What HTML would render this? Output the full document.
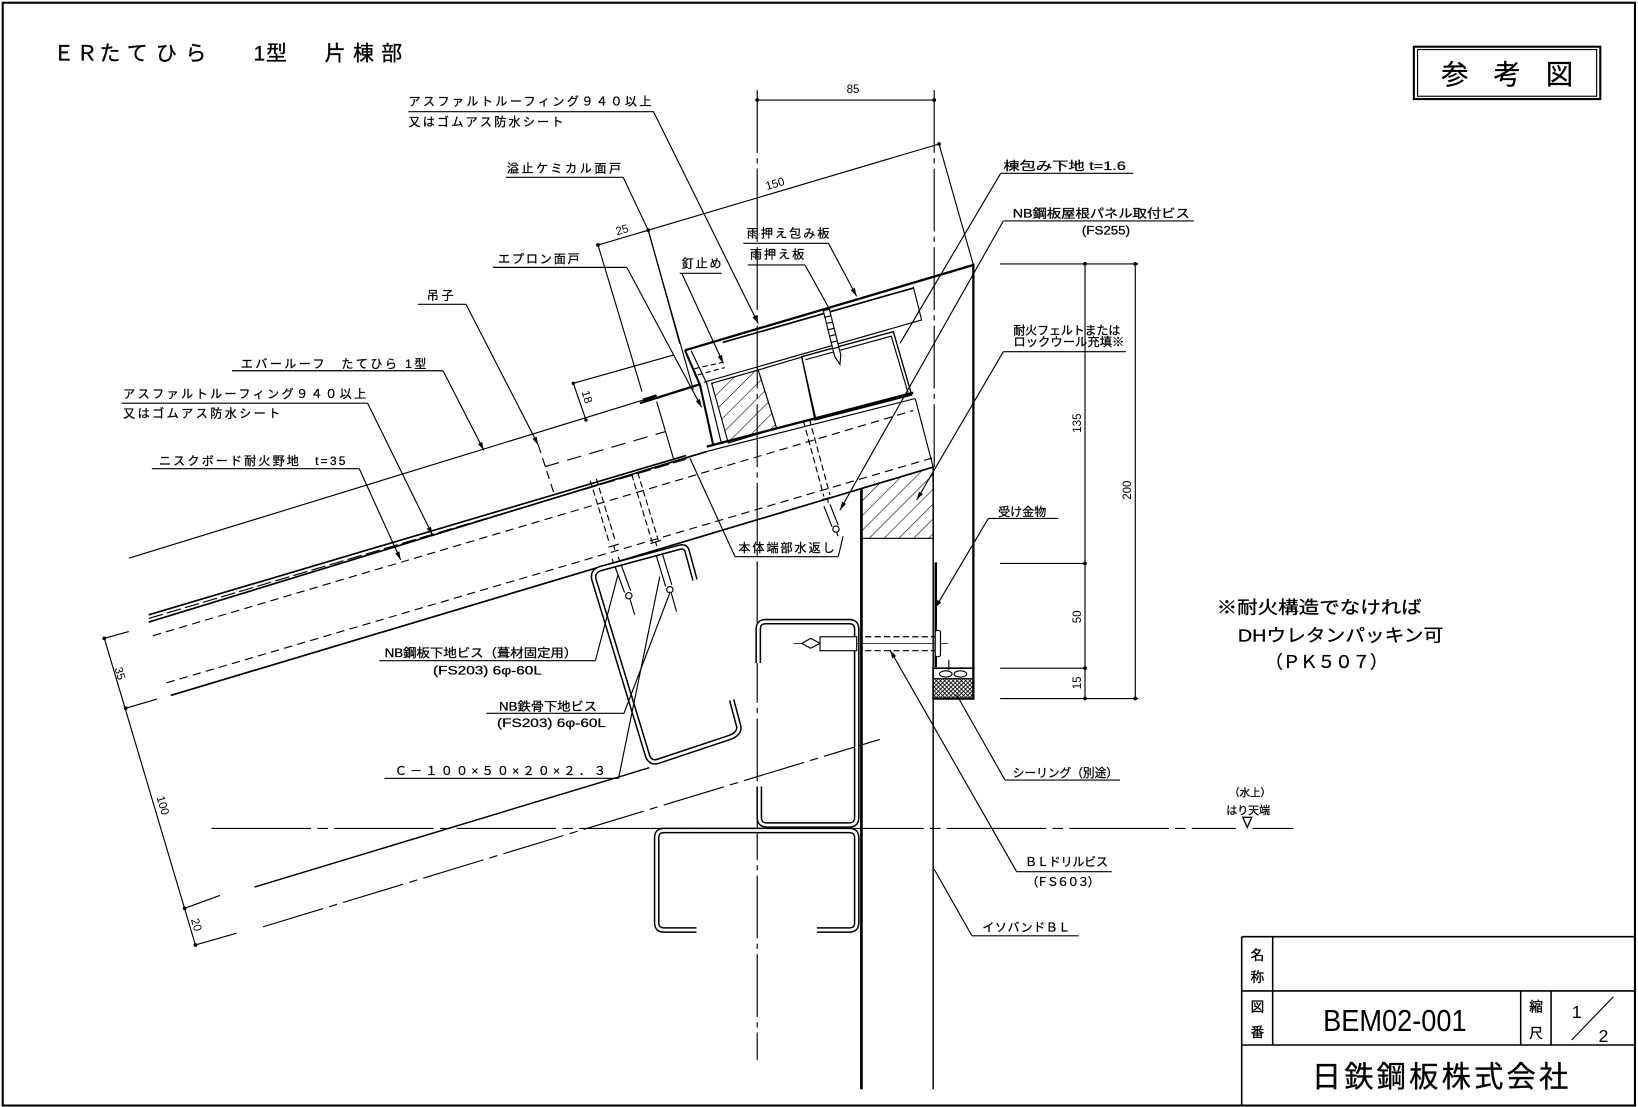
<!DOCTYPE html>
<html><head><meta charset="utf-8"><style>
html,body{margin:0;padding:0;background:#fff;}
svg{display:block}
text{font-family:"Liberation Sans","Noto Sans CJK JP",sans-serif;fill:#000}
.j{font-family:"Liberation Sans","Noto Sans CJK JP",sans-serif;font-size:11.5px;stroke:#000;stroke-width:0.25}
.b{stroke:#000;stroke-width:0.3}
</style></head><body>
<svg width="1638" height="1107" viewBox="0 0 1564 1057" preserveAspectRatio="none" xmlns="http://www.w3.org/2000/svg">
<defs>
<marker id="a" markerWidth="8" markerHeight="6" refX="8" refY="3" orient="auto" markerUnits="userSpaceOnUse"><path d="M0,0.8 L8,3 L0,5.2z" fill="#000"/></marker>
<pattern id="h" patternUnits="userSpaceOnUse" width="10" height="10" patternTransform="rotate(45)"><line x1="0" y1="0" x2="0" y2="10" stroke="#000" stroke-width="1.1"/></pattern>
<pattern id="x" patternUnits="userSpaceOnUse" width="4" height="4"><path d="M0,0 L4,4 M4,0 L0,4" stroke="#000" stroke-width="0.8"/></pattern>
</defs>
<rect x="0" y="0" width="1564" height="1057" fill="#fff"/>
<rect x="2.6" y="2.6" width="1558.5" height="1053" fill="none" stroke="#000" stroke-width="2"/>

<!-- Title -->
<g class="b">
<text x="51 73 95 121 149 177" y="58" font-size="20">ＥＲたてひら</text>
<text x="242 254" y="58" font-size="20">1型</text>
<text x="310 337 364" y="58" font-size="20">片棟部</text>
</g>

<!-- 参考図 -->
<rect x="1350" y="44.6" width="178" height="50" fill="none" stroke="#000" stroke-width="2"/>
<rect x="1353.5" y="47.3" width="171" height="44.6" fill="none" stroke="#000" stroke-width="1.1"/>
<g class="b">
<text x="1389" y="80" font-size="26" text-anchor="middle">参</text>
<text x="1439" y="80" font-size="26" text-anchor="middle">考</text>
<text x="1489" y="80" font-size="26" text-anchor="middle">図</text>
</g>

<g fill="none" stroke="#000" stroke-width="1.1">
<!-- centerlines -->
<line x1="723" y1="86" x2="723" y2="1012" stroke-dasharray="60,5,5,5"/>
<line x1="892" y1="86" x2="892" y2="446" stroke-dasharray="60,5,5,5"/>
<line x1="202" y1="791" x2="1180" y2="791" stroke-dasharray="95,6,10,6"/>
<line x1="1196" y1="791" x2="1235" y2="791"/>
<path d="M1186.6,780.4 L1195.2,780.4 L1190.9,790 Z" stroke-width="1.3"/>

<!-- 85 dim -->
<line x1="723" y1="95.5" x2="892" y2="95.5"/>
<!-- 150 / 25 dim -->
<line x1="571" y1="234" x2="896.6" y2="137.5"/>
<line x1="896.6" y1="137.5" x2="929.4" y2="253"/>
<line x1="571" y1="234" x2="613" y2="374"/>
<line x1="619" y1="220" x2="649" y2="328"/>

<!-- ridge cap & flashing -->
<path d="M654,334.5 L929.4,253 L929.4,667 L891,667" stroke-width="2.2"/>
<line x1="690" y1="327" x2="872" y2="275" stroke-width="1.6"/>
<path d="M872,273.7 L880,305.5 L672,365"/>
<path d="M654,334.5 L668.4,367.6 L681,425" stroke-width="2"/>
<path d="M660,335 L674.8,366 L689,424"/>
<line x1="611" y1="385" x2="668" y2="367" stroke-width="2.2"/>
<line x1="663" y1="352" x2="690" y2="346" stroke-dasharray="5,3"/>
<line x1="666" y1="358" x2="692" y2="351" stroke-dasharray="5,3"/>

<!-- wood block hatched -->
<polygon points="679.5,366 724,353.3 741.6,409 695.4,423" fill="url(#h)"/>
<!-- spacer -->
<polygon points="724,353.3 765.5,341 779,400 741.6,409" fill="#fff"/>
<!-- box tube -->
<polygon points="765.5,340.6 853,316.7 870.5,377.2 778.2,401" stroke-width="1.3"/>
<polyline points="769,343.5 851,321 867,375"/>

<!-- upper ridge screw -->
<polygon points="791.9,295.3 802.8,339 802,348 797,340.4 786.1,296.7" fill="#fff"/>
<path d="M787,303 L793.5,301.5 M788.5,309 L795,307.5 M790,315 L796.5,313.5 M791.5,321 L798,319.5 M793,327 L799.5,325.5 M794.5,333 L801,331.5"/>

<!-- board top lines -->
<line x1="674.8" y1="426.5" x2="872" y2="375" stroke-width="2.2"/>
<line x1="674.8" y1="431" x2="874" y2="380.5"/>
<line x1="874" y1="381" x2="891" y2="446"/>

<!-- roof left -->
<line x1="123" y1="533" x2="614" y2="382"/>
<line x1="614" y1="382" x2="627" y2="378" stroke-width="3"/>
<line x1="142" y1="587" x2="655" y2="435" stroke-width="1.6"/>
<line x1="142" y1="590.5" x2="655" y2="438.5" stroke-dasharray="14,4"/>
<line x1="142" y1="594" x2="675" y2="431" stroke-width="1.6"/>
<line x1="146" y1="607" x2="872" y2="392" stroke-dasharray="8,5"/>
<line x1="159" y1="652" x2="891" y2="437" stroke-dasharray="8,5"/>
<line x1="163" y1="664" x2="891" y2="446" stroke-width="1.6"/>
<line x1="520.4" y1="445.6" x2="635" y2="412.2" stroke-dasharray="14,8"/>
<line x1="514" y1="425" x2="528.6" y2="470" stroke-dasharray="8,5"/>
<line x1="627" y1="383.5" x2="643" y2="437.6"/>
<!-- 18 dim -->
<line x1="547.4" y1="366" x2="559.5" y2="401"/>
<line x1="547.4" y1="366" x2="643" y2="339"/>

<!-- C bottom and dashdot -->
<line x1="243" y1="847" x2="620" y2="733" stroke-width="1.4"/>
<line x1="251" y1="885" x2="840" y2="706" stroke-dasharray="60,6,8,6"/>

<!-- left dim -->
<line x1="99.6" y1="609.5" x2="186.6" y2="902.3"/>
<line x1="99.6" y1="609.5" x2="123" y2="603"/>
<line x1="120" y1="676.3" x2="150" y2="667.5"/>
<line x1="176.3" y1="867.3" x2="210" y2="855"/>
<line x1="186.6" y1="902.3" x2="226" y2="891"/>

<!-- board screws -->
<g stroke-dasharray="6,3">
<line x1="569.4" y1="457.1" x2="587.8" y2="517.3"/><line x1="563.6" y1="458.9" x2="582" y2="519.1"/>
<line x1="608.9" y1="451.1" x2="628.6" y2="516"/><line x1="603.1" y1="452.9" x2="622.8" y2="518"/>
<line x1="772.9" y1="400.2" x2="792.5" y2="472.6"/><line x1="767.1" y1="401.8" x2="786.7" y2="474.2"/>
</g>
<path d="M581,522.5 L591,519.5 M586,521 L587,525 M621,519 L631,516 M626,517.5 L627,521.5 M785,477 L795,474.5 M790,476 L791,480"/>
<path d="M590.2,531.6 L602.2,564.1 M584.4,533.4 L596.4,565.9 M606,587 L601.5,572"/>
<circle cx="600.4" cy="568.8" r="3"/>
<path d="M631.5,525.7 L641.4,558.3 M625.7,527.5 L635.6,560.1 M646,584 L641,566.5"/>
<circle cx="639.6" cy="563" r="3"/>
<path d="M792.5,481.6 L800.3,501.5 M786.7,483.2 L794.5,503.1 M800,512 L799,508.5"/>
<circle cx="798.2" cy="505.2" r="3"/>

<!-- purlin C sloped (double line) -->
<path d="M663.6,553.8 L656,526 Q654.5,521 649,522.5 L573,543 Q565.5,545.5 567,553 L617.5,719 Q620,729.5 628,727 L697,704 Q706,700.5 705.5,694 L698.6,668.4" stroke-width="5.5"/>
<path d="M663.6,553.8 L656,526 Q654.5,521 649,522.5 L573,543 Q565.5,545.5 567,553 L617.5,719 Q620,729.5 628,727 L697,704 Q706,700.5 705.5,694 L698.6,668.4" stroke="#fff" stroke-width="2.6"/>
<!-- upper vertical C -->
<path d="M724,633 L724,601 Q724,593.6 731,593.6 L811,593.6 Q818,593.6 818,601 L818,780.5 Q818,787.7 811,787.7 L732,787.7 Q725,787.7 725,780.5 L725,751" stroke-width="5.5"/>
<path d="M724,633 L724,601 Q724,593.6 731,593.6 L811,593.6 Q818,593.6 818,601 L818,780.5 Q818,787.7 811,787.7 L732,787.7 Q725,787.7 725,780.5 L725,751" stroke="#fff" stroke-width="2.6"/>
<!-- lower beam -->
<path d="M665,888 L634,888 Q627,888 627,881 L627,800 Q627,793 634,793 L811,793 Q818,793 818,800 L818,881 Q818,888 811,888 L780,888" stroke-width="5.5"/>
<path d="M665,888 L634,888 Q627,888 627,881 L627,800 Q627,793 634,793 L811,793 Q818,793 818,800 L818,881 Q818,888 811,888 L780,888" stroke="#fff" stroke-width="2.6"/>

<!-- wall -->
<polygon points="823,466 891,446 891,514 823,514" fill="url(#h)"/>
<line x1="822.5" y1="466" x2="822.5" y2="1040" stroke-width="2.6"/>
<line x1="891" y1="446" x2="891" y2="1040" stroke-width="1.4"/>
<line x1="893.5" y1="537" x2="893.5" y2="637" stroke-width="2.4"/>
<!-- sealing -->
<rect x="891" y="648" width="38" height="19" fill="url(#x)"/>
<rect x="891" y="638" width="38.4" height="29" stroke-width="1.6"/>
<ellipse cx="903" cy="643.5" rx="6" ry="3"/>
<ellipse cx="917" cy="643.5" rx="6" ry="3"/>
<line x1="906" y1="630" x2="906" y2="640"/>
<!-- bolt -->
<line x1="757.5" y1="614.3" x2="905" y2="614.3" stroke-width="0.8"/>
<polygon points="765.5,614.3 774,609.5 783,614.3 774,619" fill="#fff"/>
<rect x="783" y="608" width="35" height="13.3" fill="#fff"/>
<line x1="826" y1="608" x2="894" y2="608" stroke-dasharray="6,3"/>
<line x1="826" y1="621.3" x2="894" y2="621.3" stroke-dasharray="6,3"/>
<rect x="893" y="602" width="5" height="25" rx="2" fill="#fff"/>

<!-- right dims -->
<line x1="955" y1="252" x2="1087" y2="252"/>
<line x1="955" y1="538" x2="1037" y2="538"/>
<line x1="955" y1="638" x2="1037" y2="638"/>
<line x1="955" y1="667" x2="1087" y2="667"/>
<line x1="1036" y1="252" x2="1036" y2="667"/>
<line x1="1084" y1="252" x2="1084" y2="667"/>

<!-- leaders -->
<line x1="390" y1="106.6" x2="624" y2="106.6"/>
<line x1="624" y1="106.6" x2="724" y2="309" marker-end="url(#a)"/>
<line x1="483" y1="169.3" x2="595" y2="169.3"/>
<polyline points="595,169.3 619,220 662,372"/>
<line x1="470.6" y1="255.3" x2="598.5" y2="255.3"/>
<line x1="598.5" y1="255.3" x2="670" y2="389" marker-end="url(#a)"/>
<line x1="649" y1="261" x2="689" y2="261"/>
<line x1="651" y1="261" x2="690.7" y2="347" marker-end="url(#a)"/>
<line x1="709.7" y1="232.3" x2="791" y2="232.3"/>
<line x1="791" y1="232.3" x2="818" y2="283" marker-end="url(#a)"/>
<line x1="714" y1="253" x2="768.6" y2="253"/>
<line x1="768.6" y1="253" x2="792.5" y2="296"/>
<line x1="399" y1="290.6" x2="445" y2="290.6"/>
<line x1="445" y1="290.6" x2="514" y2="425" marker-end="url(#a)"/>
<line x1="221.5" y1="354" x2="423" y2="354"/>
<line x1="423" y1="354" x2="462" y2="430" marker-end="url(#a)"/>
<line x1="116" y1="385" x2="351" y2="385"/>
<line x1="351" y1="385" x2="413" y2="511" marker-end="url(#a)"/>
<line x1="145" y1="447.5" x2="343" y2="447.5"/>
<line x1="343" y1="447.5" x2="382.6" y2="534.7" marker-end="url(#a)"/>
<line x1="955.5" y1="165.5" x2="1082" y2="165.5"/>
<line x1="955.5" y1="165.5" x2="859.4" y2="327.8"/>
<line x1="958" y1="211" x2="1140" y2="211"/>
<line x1="958" y1="211" x2="802" y2="487" marker-end="url(#a)"/>
<line x1="958" y1="335.8" x2="1075" y2="335.8"/>
<line x1="958" y1="335.8" x2="875.3" y2="477.4" marker-end="url(#a)"/>
<line x1="943.7" y1="495" x2="1010.5" y2="495"/>
<line x1="943.7" y1="495" x2="892.8" y2="580.8" marker-end="url(#a)"/>
<line x1="701.8" y1="531.5" x2="800.4" y2="531.5"/>
<line x1="701.8" y1="531.5" x2="658.8" y2="437.6"/>
<line x1="800.4" y1="531.5" x2="805" y2="512"/>
<line x1="362.2" y1="630.8" x2="568.5" y2="630.8"/>
<line x1="568.5" y1="630.8" x2="590" y2="549"/>
<line x1="464.4" y1="681.1" x2="595.8" y2="681.1"/>
<line x1="595.8" y1="681.1" x2="640" y2="565"/>
<line x1="367" y1="743.2" x2="590.6" y2="743.2"/>
<line x1="590.6" y1="743.2" x2="630" y2="550.6"/>
<line x1="959.6" y1="744.8" x2="1069.4" y2="744.8"/>
<line x1="959.6" y1="744.8" x2="913.5" y2="663.6"/>
<line x1="970.7" y1="832.3" x2="1061.5" y2="832.3"/>
<line x1="970.7" y1="832.3" x2="849.8" y2="620.6" marker-end="url(#a)"/>
<line x1="928" y1="893.5" x2="1030" y2="893.5"/>
<line x1="928" y1="893.5" x2="892" y2="830"/>

<!-- title block -->
<g stroke-width="1.5">
<line x1="1185.6" y1="894.4" x2="1561" y2="894.4"/>
<line x1="1185.6" y1="894.4" x2="1185.6" y2="1056"/>
<line x1="1185.6" y1="946.2" x2="1561" y2="946.2"/>
<line x1="1185.6" y1="997.8" x2="1561" y2="997.8"/>
<line x1="1215.2" y1="894.4" x2="1215.2" y2="997.8"/>
<line x1="1452" y1="946.2" x2="1452" y2="997.8"/>
<line x1="1481" y1="946.2" x2="1481" y2="997.8"/>
</g>
<line x1="1500.7" y1="993" x2="1540.5" y2="951.7"/>
</g>

<!-- dots -->
<g fill="#000">
<circle cx="723" cy="95.5" r="1.8"/><circle cx="892" cy="95.5" r="1.8"/>
<circle cx="571" cy="234" r="1.8"/><circle cx="619" cy="219.8" r="1.8"/><circle cx="896.6" cy="137.5" r="1.8"/>
<circle cx="547.4" cy="366" r="1.6"/><circle cx="559.5" cy="401" r="1.6"/>
<circle cx="99.6" cy="609.5" r="1.8"/><circle cx="120" cy="676.3" r="1.8"/><circle cx="176.3" cy="867.3" r="1.8"/><circle cx="186.6" cy="902.3" r="1.8"/>
<circle cx="1036" cy="252" r="1.8"/><circle cx="1036" cy="538" r="1.8"/><circle cx="1036" cy="638" r="1.8"/><circle cx="1036" cy="667" r="1.8"/>
<circle cx="1084" cy="252" r="1.8"/><circle cx="1084" cy="667" r="1.8"/>
</g>

<!-- dimension texts -->
<g font-size="11">
<text x="814.5" y="89" text-anchor="middle">85</text>
<text x="741" y="179" text-anchor="middle" transform="rotate(-16.5 741 179)">150</text>
<text x="595" y="223" text-anchor="middle" transform="rotate(-16.5 595 223)">25</text>
<text x="557" y="380" text-anchor="middle" transform="rotate(73.5 557 380)">18</text>
<text x="111" y="644" text-anchor="middle" transform="rotate(73.5 111 644)">35</text>
<text x="152" y="770" text-anchor="middle" transform="rotate(73.5 152 770)">100</text>
<text x="184" y="884" text-anchor="middle" transform="rotate(73.5 184 884)">20</text>
<text x="1032" y="404" text-anchor="middle" transform="rotate(-90 1032 404)">135</text>
<text x="1080" y="468" text-anchor="middle" transform="rotate(-90 1080 468)">200</text>
<text x="1032" y="589" text-anchor="middle" transform="rotate(-90 1032 589)">50</text>
<text x="1032" y="652" text-anchor="middle" transform="rotate(-90 1032 652)">15</text>
</g>

<!-- labels -->
<g class="j">
<text x="390" y="100.6" textLength="232" lengthAdjust="spacing">アスファルトルーフィング９４０以上</text>
<text x="390" y="120.4" textLength="148" lengthAdjust="spacing">又はゴムアス防水シート</text>
<text x="484" y="164.9" textLength="109" lengthAdjust="spacing">溢止ケミカル面戸</text>
<text x="475.5" y="250.9" textLength="78" lengthAdjust="spacing">エプロン面戸</text>
<text x="651" y="255.6" textLength="38" lengthAdjust="spacing">釘止め</text>
<text x="713" y="227" textLength="79" lengthAdjust="spacing">雨押え包み板</text>
<text x="716" y="246.7" textLength="52" lengthAdjust="spacing">雨押え板</text>
<text x="407.5" y="285.9" textLength="25.5" lengthAdjust="spacing">吊子</text>
<text x="230" y="351.2" textLength="177" lengthAdjust="spacing">エバールーフ　たてひら 1型</text>
<text x="117.6" y="379.8" textLength="232" lengthAdjust="spacing">アスファルトルーフィング９４０以上</text>
<text x="117.6" y="398.8" textLength="150" lengthAdjust="spacing">又はゴムアス防水シート</text>
<text x="151.8" y="444.2" textLength="178" lengthAdjust="spacing">ニスクボード耐火野地　t=35</text>
<text x="958" y="162.5" textLength="117" lengthAdjust="spacingAndGlyphs">棟包み下地 t=1.6</text>
<text x="967" y="207.9" textLength="169" lengthAdjust="spacingAndGlyphs">NB鋼板屋根パネル取付ビス</text>
<text x="1033" y="223.8" textLength="46" lengthAdjust="spacingAndGlyphs">(FS255)</text>
<text x="967.6" y="319.2" textLength="102" lengthAdjust="spacingAndGlyphs">耐火フェルトまたは</text>
<text x="967.6" y="330.5" textLength="106" lengthAdjust="spacingAndGlyphs">ロックウール充填※</text>
<text x="953" y="492.8" textLength="46" lengthAdjust="spacingAndGlyphs">受け金物</text>
<text x="705" y="527.2" textLength="92" lengthAdjust="spacing">本体端部水返し</text>
<text x="367.2" y="627.4" textLength="184" lengthAdjust="spacingAndGlyphs">NB鋼板下地ビス（葺材固定用）</text>
<text x="413.4" y="643.9" textLength="104" lengthAdjust="spacingAndGlyphs">(FS203) 6φ-60L</text>
<text x="476.5" y="678.3" textLength="93.5" lengthAdjust="spacingAndGlyphs">NB鉄骨下地ビス</text>
<text x="474.6" y="694.2" textLength="104" lengthAdjust="spacingAndGlyphs">(FS203) 6φ-60L</text>
<text x="377" y="740.1" textLength="201.6" lengthAdjust="spacing">Ｃ－１００×５０×２０×２．３</text>
<text x="967" y="742" textLength="100.5" lengthAdjust="spacingAndGlyphs">シーリング（別途）</text>
<text x="978.7" y="827" textLength="79.3" lengthAdjust="spacing">ＢＬドリルビス</text>
<text x="980" y="846.2" textLength="70" lengthAdjust="spacing">（ＦＳ６０３）</text>
<text x="938" y="889.2" textLength="84" lengthAdjust="spacing">イソバンドＢＬ</text>
<text x="1193.6" y="760" font-size="10" text-anchor="middle">（水上）</text>
<text x="1191.8" y="777.4" font-size="10.5" text-anchor="middle">はり天端</text>
</g>

<!-- note -->
<g class="b">
<text x="1161.7" y="586" font-size="17" textLength="195.8" lengthAdjust="spacingAndGlyphs">※耐火構造でなければ</text>
<text x="1182" y="612.3" font-size="17" textLength="196" lengthAdjust="spacingAndGlyphs">DHウレタンパッキン可</text>
<text x="1208" y="637.8" font-size="17" textLength="117" lengthAdjust="spacing">（ＰＫ５０７）</text>
</g>

<!-- title block text -->
<g font-size="13" text-anchor="middle" class="b">
<text x="1200.6" y="916.5">名</text>
<text x="1200.6" y="937.5">称</text>
<text x="1200.6" y="966">図</text>
<text x="1200.6" y="990">番</text>
<text x="1466.7" y="966">縮</text>
<text x="1466.7" y="991">尺</text>
</g>
<text x="1263.4" y="984.5" font-size="29" textLength="137" lengthAdjust="spacingAndGlyphs">BEM02-001</text>
<text x="1505.5" y="972" font-size="17" text-anchor="middle">1</text>
<text x="1531" y="995" font-size="17" text-anchor="middle">2</text>
<text x="1252.5" y="1038" font-size="28" textLength="245" lengthAdjust="spacing" class="b">日鉄鋼板株式会社</text>
</svg>
</body></html>
